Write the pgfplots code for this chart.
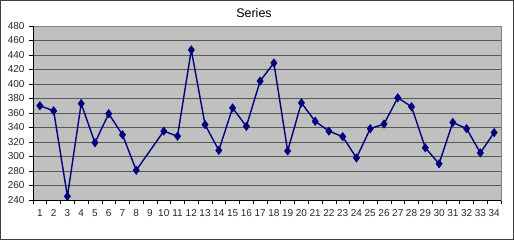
\documentclass[border=0pt]{standalone}
\usepackage{pgfplots}
\pgfplotsset{compat=1.18}
\usepackage{fontspec}
\setmainfont{Liberation Sans}
\definecolor{plotbg}{HTML}{C0C0C0}
\definecolor{navyline}{HTML}{000080}
\begin{document}
\begin{tikzpicture}[x=1pt,y=1pt]
\useasboundingbox (0,0) rectangle (514,240);
\draw[line width=1pt, black!75] (0.5,0.5) rectangle (513.5,239.5);
\node[font=\fontsize{12.5}{14}\selectfont] at (254,226.5) {Series};
\begin{axis}[
  at={(33pt,40pt)}, anchor=south west,
  scale only axis, width=468pt, height=174pt,
  xmin=0.5, xmax=34.5, ymin=240, ymax=480,
  xtick={1,...,34},
  minor xtick={0.5,1.5,...,34.5},
  ytick={240,260,...,480},
  tick align=outside,
  major tick length=4pt,
  minor tick length=4pt,
  x tick style={draw=none},
  minor x tick style={draw=black, line width=0.6pt},
  y tick style={draw=black, line width=0.6pt},
  xtick pos=bottom, ytick pos=left,
  ymajorgrids,
  major grid style={draw=black!65, line width=0.9pt},
  axis background/.style={fill=plotbg},
  axis line style={draw=gray, line width=0.8pt},
  tick label style={font=\fontsize{10}{12}\selectfont, black!85},
  /pgf/number format/assume math mode=true,
  xticklabel style={yshift=-2pt},
  yticklabel style={xshift=-1pt},
  clip=false,
  after end axis/.code={\draw[black, line width=0.8pt] (rel axis cs:0,1) -- (rel axis cs:0,0) -- (rel axis cs:1,0);},
]
\addplot[navyline, line width=1.4pt, mark=diamond*, mark size=4.2pt, mark options={fill=navyline, draw=navyline, line width=0.5pt}] coordinates {
(1,370) (2,363) (3,245) (4,373) (5,319) (6,359) (7,330) (8,281)
(10,335) (11,328) (12,447) (13,344) (14,308.5) (15,367) (16,341.6) (17,404)
(18,429) (19,307.6) (20,374) (21,348.5) (22,335) (23,327.4) (24,298) (25,338.4)
(26,344.8) (27,381) (28,368.7) (29,312) (30,290) (31,347) (32,338.4) (33,305) (34,333)
};
\end{axis}
\end{tikzpicture}
\end{document}
